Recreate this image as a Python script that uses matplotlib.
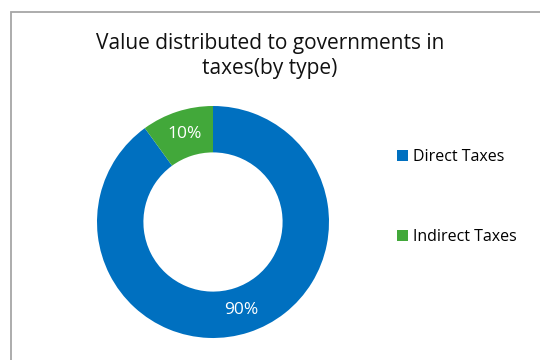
import matplotlib.pyplot as plt
from matplotlib.patches import Rectangle

# data
labels = ["Direct Taxes", "Indirect Taxes"]
shares = [90, 10]
colors = ["#0070C0", "#42A83A"]
title = "Value distributed to governments in\ntaxes(by type)"

plt.rcParams["font.family"] = ["Open Sans", "DejaVu Sans"]

fig = plt.figure(figsize=(5.4, 3.6), dpi=100)
fig.patch.set_facecolor("white")

# chart border (runs off right and bottom edge)
fig.patches.append(Rectangle((11 / 540, -0.05), 1.2, 1 - 12 / 360 + 0.05,
                             transform=fig.transFigure, fill=False,
                             edgecolor="#A6A6A6", linewidth=1.3))

ax = fig.add_axes([97 / 540, 22 / 360, 232 / 540, 232 / 360])
wedges, texts, autotexts = ax.pie(
    shares, colors=colors, startangle=90, counterclock=False, radius=1,
    wedgeprops=dict(width=0.4, edgecolor="none"),
    autopct="%d%%", pctdistance=0.8,
    textprops=dict(color="white", fontsize=12.5))
ax.set_xlim(-1, 1)
ax.set_ylim(-1, 1)
ax.set_aspect("equal")
ax.axis("off")

fig.text(270 / 540, 1 - 56 / 360, title, ha="center", va="center",
         fontsize=15, color="#111111", linespacing=1.2)

fig.legend(wedges, labels, loc="center left",
           bbox_to_anchor=(383 / 540, 1 - 197 / 360), frameon=False,
           fontsize=11.5, handlelength=0.65, handleheight=0.65,
           handletextpad=0.35, labelspacing=4.0)

fig.savefig("out.png", dpi=100)
